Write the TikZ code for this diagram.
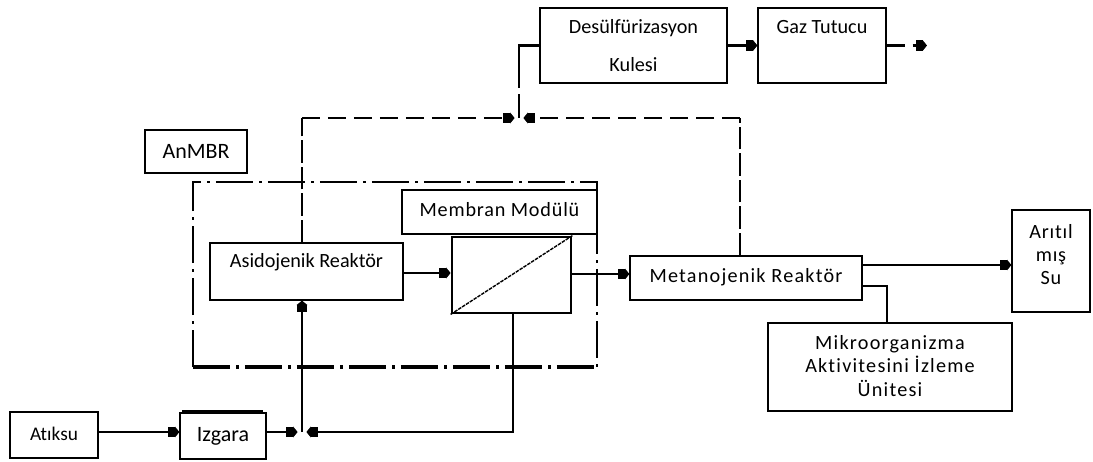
\documentclass[tikz,border=0pt]{standalone}
\usepackage{fontspec}
\setmainfont{Carlito}[Ligatures={NoCommon}]
\usetikzlibrary{arrows.meta}
\tikzset{
  box/.style={draw, line width=0.7pt, inner sep=0pt, align=center, font=\fontsize{11.5}{13}\selectfont},
  arr/.style={-{Rectangle[length=4pt,width=6pt]Triangle[length=2.5pt,width=6pt]}},
  flow/.style={line width=1.1pt},
  thin/.style={line width=0.7pt},
  gasline/.style={line width=1.3pt, dash pattern=on 0.36cm off 0.16cm},
  vgas/.style={line width=0.8pt, dash pattern=on 0.45cm off 0.08cm},
  dashdot/.style={line width=0.8pt, dash pattern=on 0.75cm off 0.12cm on 0.05cm off 0.12cm},
  wide/.style={font=\fontsize{11.5}{13}\selectfont\addfontfeature{LetterSpace=6}}
}
\begin{document}
\begin{tikzpicture}[x=0.02cm,y=-0.02cm]
\useasboundingbox (0,0) rectangle (1093,461);
% boxes
\node[box, minimum width=3.74cm, minimum height=1.5cm] (des) at (633.5,45.5) {Desülfürizasyon\\[0.32cm]Kulesi};
\node[box, minimum width=2.56cm, minimum height=1.5cm] (gaz) at (822,45.5) {};
\node[font=\fontsize{11.5}{13}\selectfont, anchor=center] (gazt) at (822,27) {Gaz Tutucu};
\node[box, minimum width=2.04cm, minimum height=0.86cm, font=\fontsize{12.5}{14}\selectfont] (anmbr) at (196,151.5) {AnMBR};
\node[box, minimum width=3.9cm, minimum height=0.88cm, font=\fontsize{11.5}{13}\selectfont\addfontfeature{LetterSpace=4}] (memlbl) at (499.5,212) {\raisebox{0.1cm}{Membran Modülü}};
\node[draw, line width=1.6pt, minimum width=2.38cm, minimum height=1.52cm, inner sep=0pt] (mem) at (511.5,275) {};
\draw[line width=0.8pt, dash pattern=on 2pt off 0.6pt] (mem.south west) -- (mem.north east);
\node[box, minimum width=3.86cm, minimum height=1.14cm] (asido) at (306.5,271.5) {};
\node[font=\fontsize{11.5}{13}\selectfont] (asidot) at (306.5,262) {Asidojenik Reaktör};
\node[box, minimum width=4.64cm, minimum height=0.88cm, wide] (meta) at (746,278) {\raisebox{0.1cm}{Metanojenik Reaktör}};
\node[box, minimum width=1.56cm, minimum height=2.04cm, font=\fontsize{11.5}{13.2}\selectfont\addfontfeature{LetterSpace=4}] (arit) at (1051,261) {Arıtıl\\mış\\Su\\[-0.2cm]~};
\node[box, minimum width=4.88cm, minimum height=1.76cm, font=\fontsize{11.5}{13.4}\selectfont\addfontfeature{LetterSpace=6}] (mikro) at (890,367) {Mikroorganizma\\Aktivitesini İzleme\\Ünitesi\\[-0.42cm]~};
\node[box, minimum width=1.76cm, minimum height=0.92cm, font=\fontsize{11}{13}\selectfont] (atik) at (54,435) {\raisebox{0.05cm}{Atıksu}};
\node[box, minimum width=1.72cm, minimum height=0.92cm, font=\fontsize{12.5}{14}\selectfont] (izg) at (223,436) {Izgara};
\draw[line width=1.2pt] ([xshift=0.06cm,yshift=0.035cm]izg.north west) -- ([xshift=-0.08cm,yshift=0.035cm]izg.north east);
% AnMBR dash-dot enclosure
\draw[dashdot] (193,367) -- (193,182) -- (597,182) -- (597,367);
\draw[dashdot, line width=1.8pt] (193,367) -- (597,367);
% gas collection
\coordinate (j1) at (519,118);
\coordinate (tl) at (302,118);
\coordinate (tr) at (740,118);
\coordinate (gout) at (927,45.5);
\draw[gasline, arr] (des.east) -- (gaz.west);
\draw[gasline, arr] (gaz.east) -- (gout);
\draw[line width=1.3pt] (des.west) -- (des.west -| j1) -- (519,88);
\draw[line width=1.3pt] (519,94) -- (j1);
\draw[gasline, arr, shorten >=2.5pt] (tl) -- (j1);
\draw[gasline, arr, shorten >=2.5pt] (tr) -- (j1);
\draw[vgas] (tl |- asido.north) -- (tl);
\draw[vgas] (tr |- meta.north) -- (tr);
% liquid flow
\coordinate (j2) at (302,432);
\coordinate (j3) at (513,432);
\draw[thin, arr] (atik.east |- j2) -- (izg.west |- j2);
\draw[flow, arr, shorten >=2.5pt] (izg.east |- j2) -- (j2);
\draw[flow, arr, shorten >=2.5pt] (j3 |- mem.south) -- (j3) -- (j2);
\draw[thin, arr] (j2) -- (j2 |- asido.south);
\draw[flow, arr] (asido.east |- 0,273) -- (mem.west |- 0,273);
\draw[flow, arr] (mem.east |- 0,274) -- (meta.west |- 0,274);
\draw[flow, arr] (meta.east |- 0,265) -- (arit.west |- 0,265);
\draw[flow] (meta.east |- 0,286) -| (887,0 |- mikro.north);
\end{tikzpicture}
\end{document}
